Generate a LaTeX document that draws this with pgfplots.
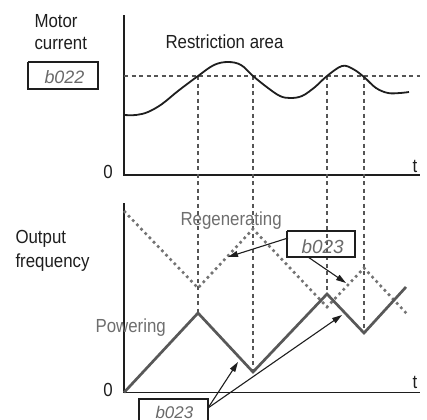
\documentclass[border=0pt]{standalone}
\usepackage{pgfplots}
\pgfplotsset{compat=1.18}
\usepackage{fontspec}
\setmainfont{Liberation Sans}[FakeStretch=0.89]
\newfontfamily\segfont{Liberation Sans}[ItalicFont={Liberation Sans Italic}]
\usetikzlibrary{arrows.meta}
\definecolor{ink}{RGB}{30,30,30}
\definecolor{powc}{RGB}{88,88,88}
\definecolor{regc}{RGB}{115,115,115}
\definecolor{dashc}{RGB}{85,85,85}
\definecolor{labgray}{RGB}{110,110,110}
\definecolor{segc}{RGB}{105,105,105}
\begin{document}
\begin{tikzpicture}
\path[use as bounding box] (0,0) rectangle (427bp,420bp);
\clip (0,0) rectangle (427bp,420bp);
\begin{axis}[
  at={(0,0)}, anchor=south west,
  scale only axis, width=427bp, height=420bp,
  xmin=0, xmax=427, ymin=0, ymax=420,
  y dir=reverse,
  hide axis, clip=false,
  every node/.style={inner sep=0pt, outer sep=0pt},
]
% axes
\addplot[ink, line width=1.7bp] coordinates {(124,15) (124,175) (420,175)};
\addplot[ink, line width=1.7bp] coordinates {(124,203) (124,392.5) (420,392.5)};
% dashed guide lines
\addplot[dashc, line width=1.1bp, dash pattern=on 4bp off 3.5bp] coordinates {(124,76) (420,76)};
\addplot[dashc, line width=1.1bp, dash pattern=on 4bp off 3.5bp] coordinates {(198,76) (198,313)};
\addplot[dashc, line width=1.1bp, dash pattern=on 4bp off 3.5bp] coordinates {(253,76) (253,372)};
\addplot[dashc, line width=1.1bp, dash pattern=on 4bp off 3.5bp] coordinates {(327,76) (327,294)};
\addplot[dashc, line width=1.1bp, dash pattern=on 4bp off 3.5bp] coordinates {(364,76) (364,333)};
% motor current
\addplot[ink, line width=1.8bp, smooth, tension=0.6] coordinates {
 (124,115) (136,115) (148,112) (162,104) (178,91) (198,76) (214,65) (228,62)
 (241,65) (253,76) (268,88) (280,96) (290,98) (302,96) (315,87) (327,76)
 (342,66) (353,69) (364,77) (376,88) (388,93) (400,93) (409,92)};
% regenerating (dotted)
\addplot[regc, line width=2.6bp, dash pattern=on 2.6bp off 3.4bp] coordinates {
 (124,211) (198,288) (253,229) (327,307) (364,268) (407,314)};
% powering (solid)
\addplot[powc, line width=2.7bp] coordinates {
 (124,392.5) (198,313) (253,372) (327,294) (364,333) (406,287)};
% arrows
\addplot[ink, line width=1.1bp, -{Triangle[length=10bp,width=6bp]}] coordinates {(288,238) (228,257)};
\addplot[ink, line width=1.1bp, -{Triangle[length=10bp,width=6bp]}] coordinates {(308,257) (346,283)};
\addplot[ink, line width=1.1bp, -{Triangle[length=10bp,width=6bp]}] coordinates {(208,408) (238,362)};
\addplot[ink, line width=1.1bp, -{Triangle[length=10bp,width=6bp]}] coordinates {(208,408) (342,315)};
% boxes
\addplot[ink, line width=1.4bp] coordinates {(28,62) (98,62) (98,89) (28,89) (28,62)};
\addplot[ink, line width=1.4bp] coordinates {(287,231) (355,231) (355,257) (287,257) (287,231)};
\addplot[ink, line width=1.4bp] coordinates {(139,430) (139,399) (208,399) (208,430)};
% texts
\node[anchor=base west, text=ink, font=\fontsize{19}{22}\selectfont] at (axis cs:31,27) {Motor};
\node[anchor=base west, text=ink, font=\fontsize{19}{22}\selectfont] at (axis cs:31,49) {current};
\node[anchor=base west, text=ink, font=\fontsize{19}{22}\selectfont] at (axis cs:162,48) {Restriction area};
\node[anchor=base west, text=ink, font=\fontsize{19}{22}\selectfont] at (axis cs:12,243) {Output};
\node[anchor=base west, text=ink, font=\fontsize{19}{22}\selectfont] at (axis cs:12,267) {frequency};
\node[anchor=base west, text=labgray, font=\fontsize{19}{22}\selectfont] at (axis cs:177,225) {Regenerating};
\node[anchor=base west, text=labgray, font=\fontsize{19}{22}\selectfont] at (axis cs:92,332) {Powering};
\node[anchor=base, text=ink, font=\fontsize{19}{22}\selectfont] at (axis cs:108,178) {0};
\node[anchor=base, text=ink, font=\fontsize{19}{22}\selectfont] at (axis cs:108,396) {0};
\node[anchor=base, text=ink, font=\fontsize{19}{22}\selectfont] at (axis cs:415,172) {t};
\node[anchor=base, text=ink, font=\fontsize{19}{22}\selectfont] at (axis cs:415,388) {t};
\node[anchor=base west, text=segc, font=\segfont\itshape\fontsize{18}{20}\selectfont] at (axis cs:41,83) {b022};
\node[anchor=base west, text=segc, font=\segfont\itshape\fontsize{19}{20}\selectfont] at (axis cs:298,253) {b023};
\node[anchor=base west, text=segc, font=\segfont\itshape\fontsize{17}{20}\selectfont] at (axis cs:152,418) {b023};
\end{axis}
\end{tikzpicture}
\end{document}
